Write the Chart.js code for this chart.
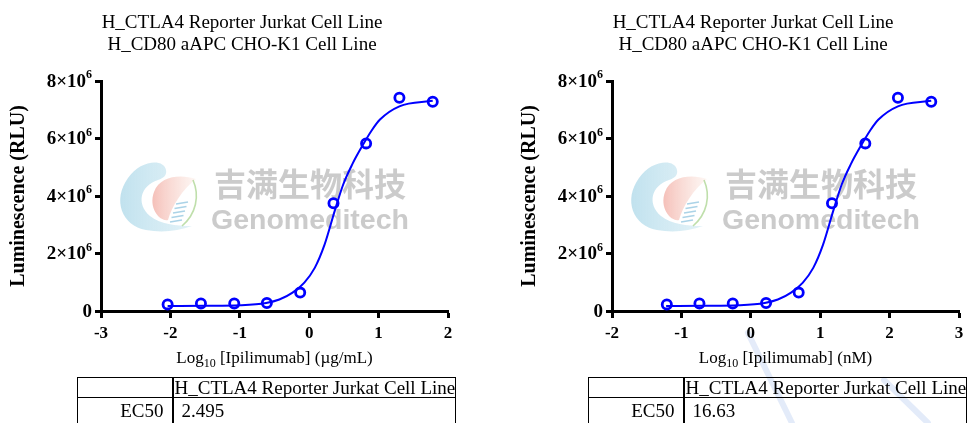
<!DOCTYPE html>
<html>
<head>
<meta charset="utf-8">
<script src="https://cdn.jsdelivr.net/npm/chart.js@4.4.1/dist/chart.umd.min.js"></script>
<style>
  html, body { margin: 0; padding: 0; background: #fff; width: 969px; height: 423px; overflow: hidden; }
  .panel { position: absolute; top: 0; width: 484px; height: 423px; }
  .panel canvas { position: absolute; left: 0; top: 0; }
  .ttl { position: absolute; left: 0; top: 11px; width: 484px; text-align: center;
         font: 19px "Liberation Serif", serif; line-height: 22px; color: #000; white-space: nowrap; }
  .xttl { position: absolute; left: 101px; top: 348px; width: 347px; text-align: center;
          font: 17px "Liberation Serif", serif; line-height: 20px; color: #000; white-space: nowrap; }
  .xttl .sub { font-size: 12px; position: relative; top: 4px; }
  .strokes { position: absolute; left: 0; top: 0; }
  table.ec { position: absolute; left: 77px; top: 377px; width: 378px; table-layout: fixed;
             border-collapse: collapse; font: 19px "Liberation Serif", serif; color: #000; }
  table.ec td { border: 1.5px solid #000; padding: 0; line-height: 19px; white-space: nowrap; overflow: hidden; vertical-align: top; }
  table.ec tr.hd td { height: 19px; }
  table.ec tr.val td { height: 30px; padding-top: 3px; }
  table.ec td.c1 { text-align: right; padding-right: 8px; border-right-width: 2px; }
  table.ec td.c2 { text-align: left; padding-left: 1px; }
  table.ec tr.val td.c2 { padding-left: 8px; }
</style>
</head>
<body>
<svg class="strokes" width="969" height="423">
  <g stroke="#c9d8f4" stroke-width="6" stroke-linecap="round" fill="none" opacity="0.5">
    <line x1="748" y1="333" x2="792" y2="423"/>
    <line x1="884" y1="380" x2="928" y2="423"/>
  </g>
</svg>
<div id="root"></div>
<script>
// Text shared by both panels
const titleLines = ['H_CTLA4 Reporter Jurkat Cell Line', 'H_CD80 aAPC CHO-K1 Cell Line'];
const yAxisTitle = 'Luminescence (RLU)';
const tableHeader = 'H_CTLA4 Reporter Jurkat Cell Line';
const tableRowLabel = 'EC50';

// Y axis ticks (RLU) and their labels, written as mantissa × 10^power
const yTickValues   = [0, 2e6, 4e6, 6e6, 8e6];
const yTickMantissa = ['0', '2×10', '4×10', '6×10', '8×10'];
const yTickPower    = ['', '6', '6', '6', '6'];

// Panel 1: concentration in µg/mL
const logConcUg = [-2.04, -1.56, -1.08, -0.61, -0.13, 0.35, 0.82, 1.30, 1.78];
const rluUg     = [0.23e6, 0.26e6, 0.26e6, 0.28e6, 0.64e6, 3.75e6, 5.83e6, 7.42e6, 7.28e6];
const fitLogUg  = [-2.04, -1.50, -1.00, -0.62, -0.43, -0.24, -0.07, 0.08, 0.22, 0.37, 0.49, 0.62, 0.76, 0.90, 1.02, 1.30, 1.78];
const fitRluUg  = [0.17e6, 0.18e6, 0.20e6, 0.28e6, 0.40e6, 0.64e6, 0.99e6, 1.50e6, 2.30e6, 3.50e6, 4.40e6, 5.10e6, 5.72e6, 6.28e6, 6.66e6, 7.12e6, 7.31e6];
const ec50Ug    = '2.495';

// Panel 2: concentration in nM
const logConcNM = [-1.21, -0.74, -0.26, 0.22, 0.69, 1.17, 1.65, 2.12, 2.60];
const rluNM     = [0.23e6, 0.26e6, 0.26e6, 0.28e6, 0.64e6, 3.75e6, 5.83e6, 7.42e6, 7.28e6];
const fitLogNM  = [-1.22, -0.68, -0.18, 0.20, 0.39, 0.58, 0.75, 0.90, 1.04, 1.19, 1.31, 1.44, 1.58, 1.72, 1.84, 2.12, 2.60];
const fitRluNM  = [0.17e6, 0.18e6, 0.20e6, 0.28e6, 0.40e6, 0.64e6, 0.99e6, 1.50e6, 2.30e6, 3.50e6, 4.40e6, 5.10e6, 5.72e6, 6.28e6, 6.66e6, 7.12e6, 7.31e6];
const ec50NM    = '16.63';

const BLUE = '#0000ff';
const SERIF = '"Liberation Serif", "Times New Roman", serif';

const panels = [
  { left: 0,   unit: 'µg/mL', xMin: -3, xMax: 2, logX: logConcUg, rlu: rluUg, fitX: fitLogUg, fitY: fitRluUg, ec50: ec50Ug },
  { left: 511, unit: 'nM',    xMin: -2, xMax: 3, logX: logConcNM, rlu: rluNM, fitX: fitLogNM, fitY: fitRluNM, ec50: ec50NM }
];

const toPoints = (xs, ys) => xs.map((x, i) => ({ x, y: ys[i] }));

// Company logo and name, drawn faintly behind the data
function drawWatermark(ctx) {
  ctx.save();
  // blue crescent
  let g = ctx.createLinearGradient(118, 0, 195, 0);
  g.addColorStop(0, 'rgba(170,215,232,0.75)');
  g.addColorStop(1, 'rgba(205,232,242,0.55)');
  ctx.fillStyle = g;
  ctx.beginPath();
  ctx.moveTo(166, 170);
  ctx.bezierCurveTo(164, 158, 140, 160, 128, 178);
  ctx.bezierCurveTo(112, 200, 122, 226, 146, 230);
  ctx.bezierCurveTo(162, 233, 178, 231, 192, 226);
  ctx.bezierCurveTo(176, 226, 160, 224, 150, 216);
  ctx.bezierCurveTo(136, 204, 140, 186, 158, 180);
  ctx.bezierCurveTo(164, 178, 167, 175, 166, 170);
  ctx.closePath();
  ctx.fill();
  // pink drop
  g = ctx.createLinearGradient(150, 0, 196, 0);
  g.addColorStop(0, 'rgba(240,160,150,0.7)');
  g.addColorStop(0.6, 'rgba(246,200,190,0.5)');
  g.addColorStop(1, 'rgba(250,225,215,0.3)');
  ctx.fillStyle = g;
  ctx.beginPath();
  ctx.moveTo(196, 179);
  ctx.bezierCurveTo(180, 174, 160, 176, 154, 192);
  ctx.bezierCurveTo(148, 208, 160, 222, 168, 220);
  ctx.bezierCurveTo(172, 206, 182, 190, 196, 179);
  ctx.closePath();
  ctx.fill();
  // green leaf edge
  ctx.strokeStyle = 'rgba(175,215,150,0.8)';
  ctx.lineWidth = 1.6;
  ctx.beginPath();
  ctx.moveTo(193, 180);
  ctx.bezierCurveTo(200, 196, 196, 214, 182, 226);
  ctx.stroke();
  // helix rungs
  ctx.strokeStyle = 'rgba(150,200,225,0.8)';
  ctx.lineWidth = 1.4;
  for (let k = 0; k < 5; k++) {
    const y0 = 204 + k * 4.5;
    ctx.beginPath();
    ctx.moveTo(176 - k * 1.5, y0);
    ctx.lineTo(188 - k * 1.5, y0 - 2);
    ctx.stroke();
  }
  // name
  ctx.fillStyle = 'rgba(200,200,200,0.95)';
  ctx.textBaseline = 'alphabetic';
  ctx.textAlign = 'left';
  ctx.font = 'bold 32px "Noto Sans CJK SC", sans-serif';
  ctx.fillText('吉满生物科技', 214, 196);
  ctx.font = 'bold 28.5px "Liberation Sans", Arial, sans-serif';
  ctx.fillText('Genomeditech', 211, 229);
  ctx.restore();
}

const decor = {
  id: 'decor',
  beforeDatasetsDraw(chart) { drawWatermark(chart.ctx); },
  afterDraw(chart) {
    const ctx = chart.ctx;
    const ys = chart.scales.y;
    const area = chart.chartArea;
    ctx.save();
    ctx.fillStyle = '#000';
    ctx.textBaseline = 'middle';
    ctx.textAlign = 'right';
    yTickValues.forEach((v, i) => {
      const py = ys.getPixelForValue(v);
      const right = area.left - 9;
      let pw = 0;
      if (yTickPower[i]) {
        ctx.font = 'bold 12px ' + SERIF;
        pw = ctx.measureText(yTickPower[i]).width;
        ctx.fillText(yTickPower[i], right, py - 6);
      }
      ctx.font = 'bold 19px ' + SERIF;
      ctx.fillText(yTickMantissa[i], right - pw, py + 1);
    });
    ctx.translate(19, (area.top + area.bottom) / 2);
    ctx.rotate(-Math.PI / 2);
    ctx.textAlign = 'center';
    ctx.font = 'bold 20px ' + SERIF;
    ctx.fillText(yAxisTitle, 0, 0);
    ctx.restore();
  }
};

const root = document.getElementById('root');
panels.forEach(p => {
  const div = document.createElement('div');
  div.className = 'panel';
  div.style.left = p.left + 'px';
  div.innerHTML =
    '<canvas width="484" height="423"></canvas>' +
    '<div class="ttl">' + titleLines.join('<br>') + '</div>' +
    '<div class="xttl">Log<span class="sub">10</span> [Ipilimumab] (' + p.unit + ')</div>' +
    '<table class="ec"><colgroup><col style="width:95px"><col style="width:283px"></colgroup>' +
    '<tr class="hd"><td class="c1"></td><td class="c2">' + tableHeader + '</td></tr>' +
    '<tr class="val"><td class="c1">' + tableRowLabel + '</td><td class="c2">' + p.ec50 + '</td></tr></table>';
  root.appendChild(div);
  const canvas = div.querySelector('canvas');

  new Chart(canvas, {
    type: 'line',
    data: {
      datasets: [
        {
          data: toPoints(p.fitX, p.fitY),
          borderColor: BLUE, borderWidth: 2, pointRadius: 0,
          cubicInterpolationMode: 'monotone', fill: false, clip: false, order: 2
        },
        {
          data: toPoints(p.logX, p.rlu),
          showLine: false, pointRadius: 4.6, pointBorderWidth: 2.8,
          pointBorderColor: BLUE, pointBackgroundColor: 'rgba(0,0,0,0)',
          clip: false, order: 1
        }
      ]
    },
    options: {
      responsive: false,
      animation: false,
      devicePixelRatio: 1,
      layout: { padding: { top: 81, right: 36, bottom: 0, left: 0 } },
      plugins: { legend: { display: false }, tooltip: { enabled: false } },
      scales: {
        x: {
          type: 'linear', min: p.xMin, max: p.xMax,
          ticks: { stepSize: 1, color: '#000', padding: 5,
                   font: { family: SERIF, weight: 'bold', size: 17 } },
          grid: { drawOnChartArea: false, drawTicks: true, tickLength: 7, tickWidth: 3, tickColor: '#000' },
          border: { display: true, width: 3, color: '#000' },
          afterFit(s) { s.height = 112; }
        },
        y: {
          type: 'linear', min: 0, max: 8e6,
          ticks: { stepSize: 2e6, color: 'rgba(0,0,0,0)' },
          grid: { drawOnChartArea: false, drawTicks: true, tickLength: 6, tickWidth: 3, tickColor: '#000' },
          border: { display: true, width: 3, color: '#000' },
          afterFit(s) { s.width = 101; }
        }
      }
    },
    plugins: [decor]
  });
});
</script>
</body>
</html>
